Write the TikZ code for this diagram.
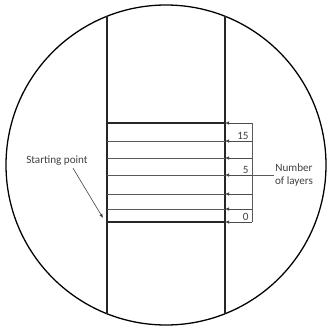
\documentclass[tikz,border=0pt]{standalone}
\usepackage{fontspec}
\setmainfont{Carlito}
\usetikzlibrary{arrows.meta}
\tikzset{
  wall/.style={draw=black!85,line width=1.1pt},
  layer/.style={draw=black!65,line width=0.55pt},
  pointer/.style={draw=black!70,line width=0.55pt,-{Latex[length=3.5pt,width=3pt,fill=black]}},
  lbl/.style={font=\fontsize{9.5}{11}\selectfont,text=black!75,inner sep=1pt}
}
\begin{document}
\begin{tikzpicture}[x=0.03cm,y=-0.03cm]
        \def\xl{107} \def\xr{225} \def\xb{252}
        \def\ytop{123} \def\ybot{222}
        \useasboundingbox (0,0) rectangle (328,329);
        \draw[line width=1.1pt] (166,165) circle[radius=160];

        % the two walls of the column
        \draw[wall] (\xl,16.3) -- (\xl,313.7);
        \draw[wall] (\xr,16.3) -- (\xr,313.7);

        % layers
        \draw[wall,line width=1.3pt] (\xl,\ytop) -- (\xr,\ytop);
        \draw[wall,line width=1.3pt] (\xl,\ybot) -- (\xr,\ybot);
        \foreach \y in {141,158,175,194,209}
          \draw[layer] (\xl,\y) -- (\xr,\y);

        % scale on the right
        \foreach \y in {123,141,158,175,194,209,222} {
          \coordinate (s\y) at (\xb,\y);
          \coordinate (w\y) at (\xr,\y);
          \draw[pointer] (s\y) -- (w\y);
        }
        \draw[layer] (s123) -- (s222);

        \node[lbl,anchor=south east] (n15) at (\xb-2,141) {15};
        \node[lbl,anchor=south east] (n5) at (\xb-2,175) {5};
        \node[lbl,anchor=south east] (n0) at (\xb-2,222) {0};

        \node[lbl,align=center] (layers) at (294,175) {Number\\of layers};
        \draw[layer] (s175) -- (layers.west);

        % starting point
        \node[lbl] (start) at (57,161) {Starting point};
        \coordinate (s0) at (103,218);
        \draw[pointer] (start.south)++(16,1) -- (s0);
\end{tikzpicture}
\end{document}
